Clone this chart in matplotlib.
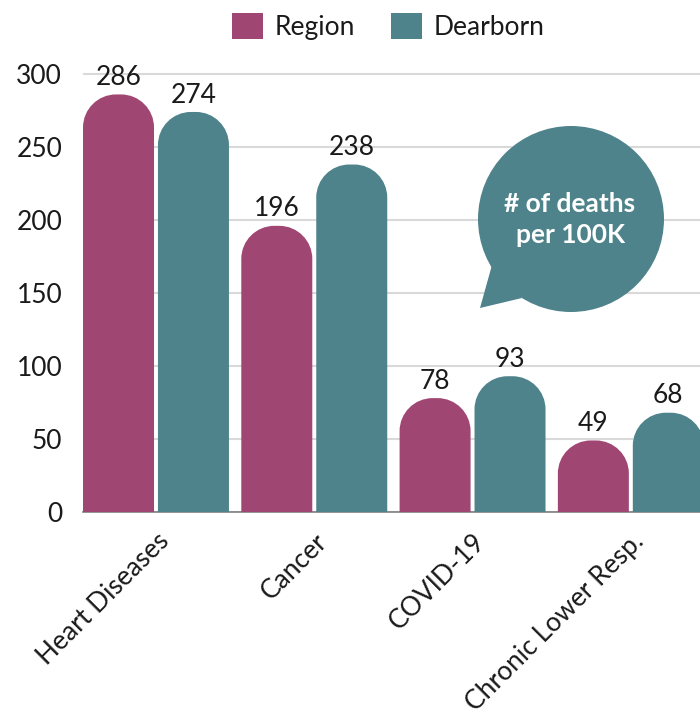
import numpy as np
import matplotlib
matplotlib.use("Agg")
import matplotlib.pyplot as plt
from matplotlib.path import Path
from matplotlib.patches import PathPatch, Circle, Polygon, Patch

categories = ["Heart Diseases", "Cancer", "COVID-19", "Chronic Lower Resp."]
region = [286, 196, 78, 49]
dearborn = [274, 238, 93, 68]
series_names = ["Region", "Dearborn"]
colors = ["#A04673", "#4E838B"]
yticks = [0, 50, 100, 150, 200, 250, 300]

plt.rcParams['font.family'] = ['Lato', 'DejaVu Sans']
FS = 19
TXT = "#1a1a1a"

fig = plt.figure(figsize=(7, 7.28), dpi=100)
ax = fig.add_axes([0.1186, 0.2967, 0.8814, 0.6217])

x = np.arange(len(categories))
width = 0.4485
gap = 0.025
ax.set_xlim(-0.461, 3.437)
ax.set_ylim(0, 310)


def rounded_bar(ax, rect, color, r_px=33):
    '''Swap a plain bar for one with rounded top corners'''
    x0, y0 = rect.get_x(), rect.get_y()
    w, h = rect.get_width(), rect.get_height()
    # radius in data units, same size in pixels on both axes
    p0 = ax.transData.transform((0, 0))
    p1 = ax.transData.transform((1, 1))
    rx = min(r_px / (p1[0] - p0[0]), w / 2)
    ry = min(r_px / (p1[1] - p0[1]), h)
    k = 0.5523
    x1, y1 = x0 + w, y0 + h
    verts = [
        (x0, y0), (x0, y1 - ry),
        (x0, y1 - ry + k * ry), (x0 + rx - k * rx, y1), (x0 + rx, y1),
        (x1 - rx, y1),
        (x1 - rx + k * rx, y1), (x1, y1 - ry + k * ry), (x1, y1 - ry),
        (x1, y0), (x0, y0),
    ]
    codes = [Path.MOVETO, Path.LINETO,
             Path.CURVE4, Path.CURVE4, Path.CURVE4,
             Path.LINETO,
             Path.CURVE4, Path.CURVE4, Path.CURVE4,
             Path.LINETO, Path.CLOSEPOLY]
    rect.set_visible(False)
    ax.add_patch(PathPatch(Path(verts, codes), facecolor=color,
                           edgecolor="none", zorder=3))


for vals, offset, color in [(region, -1, colors[0]), (dearborn, 1, colors[1])]:
    pos = x + offset * (width / 2 + gap / 2)
    bars = ax.bar(pos, vals, width, color=color, zorder=3)
    for rect, v in zip(bars, vals):
        rounded_bar(ax, rect, color)
        ax.text(rect.get_x() + rect.get_width() / 2, v + 3, str(v),
                ha="center", va="bottom", fontsize=FS, color=TXT, zorder=4)

ax.set_yticks(yticks)
ax.yaxis.grid(True, color="#d9d9d9", linewidth=1.5)
ax.set_axisbelow(True)
for s in ["top", "right", "left"]:
    ax.spines[s].set_visible(False)
ax.spines["bottom"].set_color("#808080")
ax.spines["bottom"].set_linewidth(1.2)
ax.tick_params(axis="y", length=0, pad=15, labelsize=FS, labelcolor=TXT)
ax.tick_params(axis="x", length=0, pad=12, labelsize=FS, labelcolor=TXT)
ax.set_xticks(x)
ax.set_xticklabels(categories, rotation=45, ha="right",
                   rotation_mode="anchor")

handles = [Patch(facecolor=c, edgecolor="none", label=n)
           for c, n in zip(colors, series_names)]
fig.legend(handles=handles, loc="center", bbox_to_anchor=(0.555, 0.9636),
           ncol=2, frameon=False, fontsize=FS, handlelength=1.17,
           handleheight=1.17, columnspacing=1.36, handletextpad=0.45,
           borderpad=0, labelcolor=TXT)

# speech bubble
bub_color = colors[1]
tr = fig.dpi_scale_trans
bubble = Circle((5.71, 5.09), 0.93, transform=tr, facecolor=bub_color,
                edgecolor="none", zorder=5)
tail = Polygon([(4.92, 4.63), (4.80, 4.20), (5.22, 4.30)], closed=True,
               transform=tr, facecolor=bub_color, edgecolor="none", zorder=5)
fig.patches.extend([bubble, tail])
fig.text(5.70 / 7, 5.09 / 7.28, "# of deaths\nper 100K", ha="center",
         va="center", fontsize=19, fontweight="bold", color="white",
         linespacing=1.35, zorder=6)

fig.savefig("out.png", dpi=100)
